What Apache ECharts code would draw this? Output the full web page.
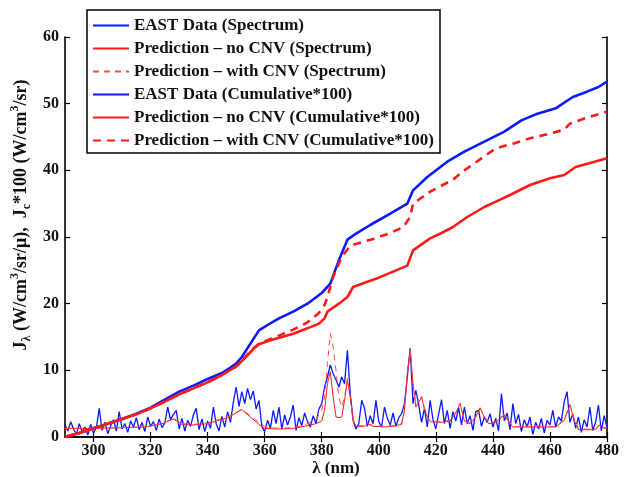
<!DOCTYPE html>
<html>
<head>
<meta charset="utf-8">
<script src="https://cdn.jsdelivr.net/npm/echarts@6/dist/echarts.min.js"></script>
<style>
  html, body { margin: 0; padding: 0; background: #fff; }
  #chart { width: 626px; height: 477px; }
</style>
</head>
<body>
<div id="chart"></div>
<script>
// Wavelength grid of the measured spectrum (nm), one sample per nm
const spectrumStart = 290;
const eastSpectrum = [
  1.8, 0.9, 2.3, 1.2, 0.4, 2.0, 0.8, 1.5, 0.3, 1.9,
  0.6, 1.4, 4.3, 1.0, 2.2, 0.5, 1.7, 2.6, 0.9, 3.8,
  1.2, 2.0, 0.7, 2.4, 1.5, 2.9, 1.1, 2.2, 0.8, 3.0,
  1.6, 2.3, 1.0, 2.7, 1.4, 2.1, 4.5, 2.6, 3.4, 4.0,
  1.2, 2.8, 0.9, 2.5, 1.6, 3.3, 4.3, 1.1, 2.7, 0.8,
  2.4, 1.3, 4.5, 2.0, 0.9, 3.1, 1.5, 3.8, 2.2, 5.2,
  7.5, 4.6, 6.8, 5.0, 7.3, 5.6, 6.9, 4.2, 5.5, 1.6,
  0.8, 2.5, 1.3, 4.0, 2.0, 4.5, 1.2, 3.3, 1.8, 3.0,
  4.8, 1.0, 2.9, 1.7, 3.6, 2.3, 1.5, 3.2, 2.0, 4.2,
  5.0, 7.5, 9.0, 10.8, 9.5, 8.6, 7.5, 9.0, 8.0, 13.0,
  6.5, 2.5, 1.2, 2.0, 5.5, 4.3, 1.6, 3.2, 2.0, 5.5,
  2.3, 1.5, 4.5, 2.8, 1.8, 3.6, 1.6, 2.9, 3.5, 5.0,
  9.0, 13.3, 5.0, 7.0, 4.8, 2.2, 4.3, 1.5, 5.5, 2.6,
  1.2, 3.5, 5.6, 2.0, 4.0, 1.3, 3.8, 2.4, 4.4, 1.8,
  4.5, 2.0, 3.2, 1.0, 3.8, 4.0, 1.6, 3.0, 2.2, 3.5,
  1.5, 2.8, 0.9, 6.5, 2.4, 3.6, 1.1, 5.0, 2.0, 3.4,
  0.8, 2.6, 1.5, 3.0, 0.4, 2.2, 1.2, 2.8, 0.6, 2.5,
  1.8, 4.0, 1.5, 3.0, 2.4, 5.3, 6.8, 2.2, 3.5, 1.3,
  3.0, 0.7, 2.6, 1.5, 4.5, 1.0, 2.2, 4.8, 0.9, 3.2,
  1.4
];

// Predicted spectra, [wavelength, J_lambda]
const predNoCnvSpectrum = [
  [290,1.3],[300,1.3],[310,1.4],[318,1.5],[324,2.0],[328,2.7],[331,1.9],[335,1.8],
  [340,2.0],[343,2.4],[347,2.9],[350,3.6],[352,4.1],[355,3.0],[358,1.9],[360,1.3],
  [365,1.2],[370,1.3],[374,1.6],[378,2.0],[380,2.4],[381,4.0],[382,8.0],[383,9.8],
  [384,6.0],[385,3.0],[386,2.9],[387,3.0],[388,5.5],[389,8.5],[390,6.0],[391,2.5],
  [392,1.6],[395,1.6],[396,2.0],[398,1.6],[402,1.5],[405,1.6],[408,1.9],[409,4.0],
  [410,9.5],[411,13.0],[412,8.0],[413,4.5],[414,5.2],[415,6.0],[416,4.2],[417,3.0],
  [418,2.3],[422,2.2],[425,2.4],[427,3.6],[428.5,5.0],[430,2.4],[432,2.0],[434,3.0],
  [435.5,4.3],[437,3.0],[438.5,2.0],[441,2.2],[444,3.3],[446,2.0],[447,1.5],[455,1.5],
  [462,1.5],[465,2.5],[467,4.8],[468.5,2.5],[470,1.1],[476,1.1],[477.5,1.8],[479,1.3],
  [480,1.3]
];
const predCnvSpectrum = [
  [290,1.3],[300,1.3],[310,1.4],[318,1.5],[324,2.0],[328,2.8],[331,2.0],[335,1.9],
  [340,2.1],[343,2.5],[347,3.0],[350,3.7],[352,4.2],[355,3.2],[358,2.2],[360,1.6],
  [362,1.4],[365,1.3],[370,1.4],[374,1.8],[378,2.6],[380,4.0],[381,6.0],[382,11.0],
  [383,15.5],[384,13.5],[385,10.0],[386,6.0],[387,4.5],[388,6.0],[389,8.8],[390,6.2],
  [391,2.6],[392,1.7],[395,1.7],[396,2.1],[398,1.7],[402,1.6],[405,1.7],[408,2.0],
  [409,4.1],[410,9.6],[411,13.1],[412,8.1],[413,4.6],[414,5.3],[415,6.1],[416,4.3],
  [417,3.1],[418,2.4],[422,2.3],[425,2.5],[427,3.7],[428.5,5.1],[430,2.5],[432,2.1],
  [434,3.1],[435.5,4.4],[437,3.1],[438.5,2.1],[441,2.3],[444,3.4],[446,2.1],[447,1.6],
  [455,1.6],[462,1.6],[465,2.6],[467,4.9],[468.5,2.6],[470,1.2],[476,1.2],[477.5,1.9],
  [479,1.4],[480,1.4]
];

// Cumulative intensities (x100), [wavelength, J_c*100]
const eastCumulative = [
  [290,0],[295,0.6],[300,1.3],[305,2.0],[310,2.7],[315,3.5],[320,4.4],[325,5.6],
  [330,6.8],[335,7.7],[340,8.7],[345,9.6],[348,10.4],[350,11.0],[352,12.0],[355,14.0],
  [358,16.0],[361,16.8],[365,17.8],[370,18.8],[375,20.0],[380,21.6],[383,23.0],[386,26.5],
  [389,29.6],[392,30.5],[397,31.8],[404,33.5],[410,35.0],[412,37.0],[417,39.0],[424,41.3],
  [430,42.8],[437,44.3],[444,45.8],[450,47.5],[455,48.4],[458,48.8],[462,49.3],[468,51.0],
  [473,51.8],[477,52.5],[480,53.3]
];
const predNoCnvCumulative = [
  [290,0],[295,0.6],[300,1.3],[305,2.0],[310,2.7],[315,3.4],[320,4.3],[325,5.3],
  [330,6.4],[335,7.3],[340,8.2],[345,9.3],[350,10.6],[353,11.8],[356,13.2],[358,13.9],
  [362,14.5],[366,15.0],[370,15.5],[375,16.3],[379,17.0],[381,17.8],[382,18.8],[386,20.0],
  [389,21.0],[391,22.5],[396,23.3],[400,23.9],[405,24.8],[410,25.7],[412,28.0],[418,29.8],
  [422,30.6],[426,31.5],[431,33.0],[437,34.5],[442,35.5],[446,36.3],[453,37.8],[460,38.8],
  [465,39.3],[469,40.5],[475,41.2],[480,41.8]
];
const predCnvCumulative = [
  [290,0],[295,0.6],[300,1.3],[305,2.0],[310,2.7],[315,3.4],[320,4.3],[325,5.3],
  [330,6.4],[335,7.3],[340,8.2],[345,9.3],[350,10.6],[353,11.9],[356,13.3],[358,14.0],
  [362,14.7],[366,15.4],[370,16.1],[375,17.2],[379,18.6],[381,19.8],[382,21.0],[384,24.0],
  [387,27.0],[390,28.7],[394,29.2],[398,29.7],[404,30.6],[408.6,31.5],[411,33.0],[412,35.0],
  [418,36.8],[426,38.6],[430,40.0],[436,41.8],[441,43.3],[447,44.0],[453,44.8],[459,45.4],
  [465,46.1],[467,47.0],[473,47.9],[480,48.8]
];

// Axis ticks
const xTicks = [300, 320, 340, 360, 380, 400, 420, 440, 460, 480];
const yTicks = [0, 10, 20, 30, 40, 50, 60];

const seriesNames = [
  'EAST Data (Spectrum)',
  'Prediction \u2013 no CNV (Spectrum)',
  'Prediction \u2013 with CNV (Spectrum)',
  'EAST Data (Cumulative*100)',
  'Prediction \u2013 no CNV (Cumulative*100)',
  'Prediction \u2013 with CNV (Cumulative*100)'
];

const FONT = '"Liberation Serif", "Times New Roman", serif';
const BLUE = '#0a1aff';
const RED = '#ff1a1a';

const eastSpectrumPairs = eastSpectrum.map((v, i) => [spectrumStart + i, v]);

const baseAxisLine = { show: true, lineStyle: { color: '#000', width: 1.6 } };
const tickStyle = { inside: true, length: 5, lineStyle: { color: '#000', width: 1.2 } };
const labelStyle = { fontFamily: FONT, fontWeight: 'bold', fontSize: 16, color: '#111' };

const chart = echarts.init(document.getElementById('chart'), null, { renderer: 'canvas' });

chart.setOption({
  animation: false,
  backgroundColor: '#fff',
  grid: { left: 65, right: 19, top: 37, bottom: 40, containLabel: false, outerBoundsMode: 'none' },
  legend: {
    orient: 'vertical',
    left: 87,
    top: 10,
    data: seriesNames,
    backgroundColor: '#fff',
    borderColor: '#000',
    borderWidth: 1.5,
    padding: [7, 6, 4, 5],
    itemGap: 6,
    itemWidth: 36,
    itemHeight: 14,
    itemStyle: { color: 'rgba(0,0,0,0)', borderWidth: 0, opacity: 0 },
    textStyle: { fontFamily: FONT, fontWeight: 'bold', fontSize: 17, color: '#111' },
    selectedMode: false,
    z: 10
  },
  xAxis: [
    {
      type: 'value', min: 290, max: 480, position: 'bottom',
      axisLine: baseAxisLine,
      axisTick: Object.assign({ customValues: xTicks }, tickStyle),
      axisLabel: Object.assign({ customValues: xTicks, margin: 6 }, labelStyle),
      splitLine: { show: false },
      name: '\u03bb (nm)', nameLocation: 'middle', nameGap: 23, nameMoveOverlap: false,
      nameTextStyle: { fontFamily: FONT, fontWeight: 'bold', fontSize: 17, color: '#111' }
    },
    {
      type: 'value', min: 290, max: 480, position: 'top',
      axisLine: baseAxisLine,
      axisTick: Object.assign({ customValues: xTicks }, tickStyle),
      axisLabel: { show: false },
      splitLine: { show: false }
    }
  ],
  yAxis: [
    {
      type: 'value', min: 0, max: 60, interval: 10, position: 'left',
      axisLine: baseAxisLine,
      axisTick: tickStyle,
      axisLabel: Object.assign({ margin: 6 }, labelStyle),
      splitLine: { show: false },
      name: '{m|J}{s|\u03bb}{m| (W/cm}{p|3}{m|/sr/\u03bc),  J}{s|c}{m|*100 (W/cm}{p|3}{m|/sr)}',
      nameLocation: 'middle', nameGap: 32, nameRotate: 90, nameMoveOverlap: false,
      nameTextStyle: {
        fontFamily: FONT, fontWeight: 'bold', fontSize: 18, color: '#111',
        padding: [0, 0, 0, 44],
        rich: {
          m: { fontFamily: FONT, fontWeight: 'bold', fontSize: 18, lineHeight: 24, color: '#111', verticalAlign: 'middle' },
          s: { fontFamily: FONT, fontWeight: 'bold', fontSize: 12, lineHeight: 24, color: '#111', verticalAlign: 'bottom' },
          p: { fontFamily: FONT, fontWeight: 'bold', fontSize: 12, lineHeight: 24, color: '#111', verticalAlign: 'top' }
        }
      }
    },
    {
      type: 'value', min: 0, max: 60, interval: 10, position: 'right',
      axisLine: baseAxisLine,
      axisTick: tickStyle,
      axisLabel: { show: false },
      splitLine: { show: false }
    }
  ],
  series: [
    {
      name: seriesNames[0], type: 'line', data: eastSpectrumPairs, showSymbol: false, symbol: 'none',
      lineStyle: { color: BLUE, width: 1.3 }, itemStyle: { color: BLUE }
    },
    {
      name: seriesNames[1], type: 'line', data: predNoCnvSpectrum, showSymbol: false, symbol: 'none',
      lineStyle: { color: RED, width: 1 }, itemStyle: { color: '#ff6a6a' }
    },
    {
      name: seriesNames[2], type: 'line', data: predCnvSpectrum, showSymbol: false, symbol: 'none',
      lineStyle: { color: '#ff4a4a', width: 1, type: [6, 5] }, itemStyle: { color: '#ff8a8a' }
    },
    {
      name: seriesNames[3], type: 'line', data: eastCumulative, showSymbol: false, symbol: 'none',
      lineStyle: { color: BLUE, width: 2.6 }, itemStyle: { color: BLUE }
    },
    {
      name: seriesNames[4], type: 'line', data: predNoCnvCumulative, showSymbol: false, symbol: 'none',
      lineStyle: { color: RED, width: 2.6 }, itemStyle: { color: RED }
    },
    {
      name: seriesNames[5], type: 'line', data: predCnvCumulative, showSymbol: false, symbol: 'none',
      lineStyle: { color: RED, width: 2.6, type: [8, 6] }, itemStyle: { color: RED }
    }
  ]
});
</script>
</body>
</html>
